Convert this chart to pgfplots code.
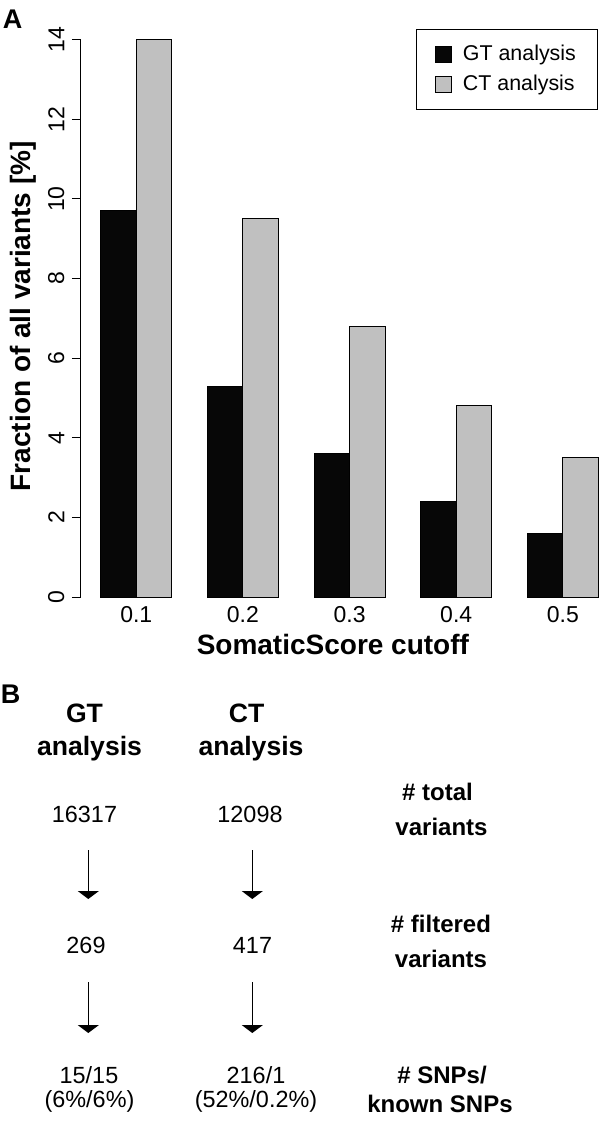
\documentclass[border=0pt]{standalone}
\usepackage{fontspec}
\setmainfont{Liberation Sans}
\usepackage{pgfplots}
\pgfplotsset{compat=1.18}
\usetikzlibrary{arrows.meta}
\definecolor{ctgray}{HTML}{C0C0C0}
\definecolor{gtblack}{HTML}{070707}

\begin{document}
\begin{tikzpicture}
\useasboundingbox (0,0) rectangle (300pt,-561pt);
\begin{axis}[
  at={(40.4pt,-298.5pt)}, anchor=south west,
  scale only axis, width=268.75pt, height=278.6pt,
  xmin=0.44, xmax=15.56, ymin=0, ymax=14,
  clip=false,
  axis line style={draw=none},
  ytick={0,2,...,14}, ytick pos=left, tick align=outside,
  major tick length=4.5pt,
  tick style={black, line width=0.5pt},
  xtick={2,5,8,11,14}, xticklabels={0.1,0.2,0.3,0.4,0.5}, xtick pos=bottom,
  x tick style={draw=none},
  /pgf/number format/assume math mode=true,
  yticklabel style={rotate=90, anchor=south, inner sep=3.5pt, font=\fontsize{11.5}{13}\selectfont},
  xticklabel style={font=\fontsize{11.5}{13}\selectfont, anchor=north, inner sep=0pt},
  xlabel={SomaticScore cutoff}, ylabel={Fraction of all variants [\%]},
  label style={font=\fontsize{14}{16}\selectfont\bfseries},
  xlabel style={at={(axis description cs:0.469,-0.0861)}, anchor=center},
  ylabel style={at={(axis description cs:-0.1075,0.504)}, anchor=center},
  legend style={at={(axis description cs:0.963,1.0194)}, anchor=north east,
    draw=black, line width=0.5pt, inner xsep=9pt, inner ysep=6pt,
    font=\fontsize{10.7}{13}\selectfont, row sep=1.5pt},
  legend cell align=left,
  legend image code/.code={\draw[#1, line width=0.5pt] (0pt,-4pt) rectangle (8pt,4pt); \path (11.5pt,0pt);},
]
\addplot[ybar, bar width=1, bar shift=0pt, fill=gtblack, draw=black, line width=0.5pt]
  coordinates {(1.5,9.7) (4.5,5.3) (7.5,3.6) (10.5,2.4) (13.5,1.6)};
\addplot[ybar, bar width=1, bar shift=0pt, fill=ctgray, draw=black, line width=0.5pt]
  coordinates {(2.5,14.0) (5.5,9.5) (8.5,6.8) (11.5,4.8) (14.5,3.5)};
\legend{GT analysis, CT analysis}
\draw[line width=0.5pt] (axis cs:0.44,0) -- (axis cs:0.44,14);
\end{axis}

\begin{scope}[x=0.5pt, y=-0.5pt]
\tikzset{hd/.style={anchor=base, font=\fontsize{13.3}{15}\selectfont\bfseries, inner sep=0pt},
         rl/.style={anchor=base, font=\fontsize{12}{14}\selectfont\bfseries, inner sep=0pt},
         nm/.style={anchor=base, font=\fontsize{11.7}{14}\selectfont, inner sep=0pt},
         pl/.style={anchor=base, font=\fontsize{13.5}{15}\selectfont\bfseries, inner sep=0pt},
         ar/.style={line width=0.6pt, -{Triangle[width=10.5pt,length=4pt]}}}
\node[pl] at (12.5,28.5) {A};
\node[pl] at (10.5,703) {B};
% headers
\node[hd] at (84.5,722) {GT};
\node[hd] at (89.5,755) {analysis};
\node[hd] at (246.7,722) {CT};
\node[hd] at (251,755) {analysis};
% row 1
\node[nm] at (84.5,822) {16317};
\node[nm] at (250,822) {12098};
\node[rl] at (437.5,800) {\# total};
\node[rl] at (441.5,835) {variants};
\draw[ar] (88.3,850) -- (88.3,899);
\draw[ar] (252.3,850) -- (252.3,899);
% row 2
\node[nm] at (86,953) {269};
\node[nm] at (252.5,953) {417};
\node[rl] at (441,932) {\# filtered};
\node[rl] at (441,967) {variants};
\draw[ar] (88.3,982) -- (88.3,1033);
\draw[ar] (252.3,982) -- (252.3,1033);
% row 3
\node[nm] at (89,1083) {15/15};
\node[nm] at (89.5,1107) {(6\%/6\%)};
\node[nm] at (256,1083) {216/1};
\node[nm] at (256,1107) {(52\%/0.2\%)};
\node[rl] at (442,1083) {\# SNPs/};
\node[rl] at (440,1112) {known SNPs};
\end{scope}
\end{tikzpicture}
\end{document}
